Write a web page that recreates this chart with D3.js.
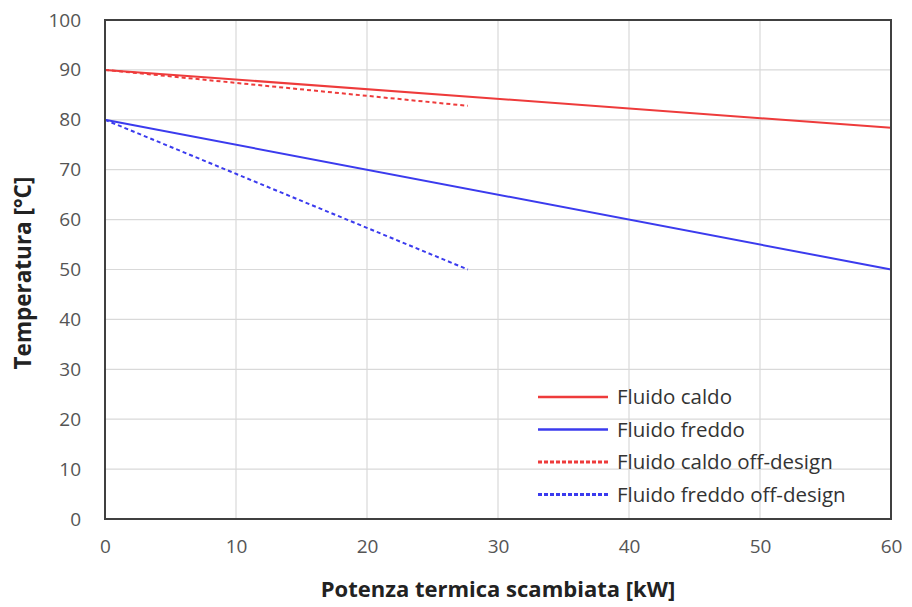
<!DOCTYPE html>
<html><head><meta charset="utf-8">
<script src="https://cdn.jsdelivr.net/npm/d3@7/dist/d3.min.js"></script>
<style>body{margin:0;background:#fff}</style>
</head><body>
<svg id="c" width="912" height="607"></svg>
<script>
const xTicks = [0,10,20,30,40,50,60];
const yTicks = [0,10,20,30,40,50,60,70,80,90,100];
const seriesNames = ["Fluido caldo","Fluido freddo","Fluido caldo off-design","Fluido freddo off-design"];
const caldo = [[0,90],[60,78.4]];
const freddo = [[0,80],[60,50]];
const caldoOff = [[0,90],[27.7,82.8]];
const freddoOff = [[0,80],[27.7,50]];
const colors = ["#ee3b3b","#3b3bee","#ee3b3b","#3b3bee"];
const dashed = [false,false,true,true];
const allSeries = [caldo,freddo,caldoOff,freddoOff];

const svg = d3.select("#c");
const m = {l:105,t:20,r:891,b:519};
const x = d3.scaleLinear().domain([0,60]).range([m.l,m.r]);
const y = d3.scaleLinear().domain([0,100]).range([m.b,m.t]);
const font = "'Open Sans', sans-serif";

// grid
svg.append("g").selectAll("line").data(xTicks).join("line")
  .attr("x1",d=>x(d)).attr("x2",d=>x(d)).attr("y1",m.t).attr("y2",m.b)
  .attr("stroke","#d9d9d9").attr("stroke-width",1.2);
svg.append("g").selectAll("line").data(yTicks).join("line")
  .attr("x1",m.l).attr("x2",m.r).attr("y1",d=>y(d)).attr("y2",d=>y(d))
  .attr("stroke","#d9d9d9").attr("stroke-width",1.2);

// axes
const xa = svg.append("g").attr("transform",`translate(0,${m.b})`)
  .call(d3.axisBottom(x).tickValues(xTicks).tickSize(0).tickPadding(21));
const ya = svg.append("g").attr("transform",`translate(${m.l},0)`)
  .call(d3.axisLeft(y).tickValues(yTicks).tickSize(0).tickPadding(24));
[xa,ya].forEach(a=>{a.select(".domain").remove();
  a.selectAll("text").attr("font-family",font).attr("font-size",19).attr("fill","#555");});

// lines
const line = d3.line().x(d=>x(d[0])).y(d=>y(d[1]));
svg.append("g").selectAll("path").data(allSeries).join("path")
  .attr("d",line).attr("fill","none")
  .attr("stroke",(d,i)=>colors[i]).attr("stroke-width",2)
  .attr("stroke-dasharray",(d,i)=>dashed[i]?"4,3":null);

// border
svg.append("rect").attr("x",m.l).attr("y",m.t).attr("width",m.r-m.l).attr("height",m.b-m.t)
  .attr("fill","none").attr("stroke","#404040").attr("stroke-width",2);

// legend
const lg = svg.append("g");
seriesNames.forEach((n,i)=>{
  const yy = 397 + i*32.5;
  lg.append("line").attr("x1",538).attr("x2",608).attr("y1",yy).attr("y2",yy)
    .attr("stroke",colors[i]).attr("stroke-width",dashed[i]?3:2.5)
    .attr("stroke-dasharray",dashed[i]?"4,2":null);
  lg.append("text").attr("x",617).attr("y",yy).attr("dy","0.35em")
    .attr("font-family",font).attr("font-size",20.5).attr("fill","#333").text(n);
});

// axis titles
svg.append("text").attr("x",(m.l+m.r)/2).attr("y",597).attr("text-anchor","middle")
  .attr("font-family",font).attr("font-weight","bold").attr("font-size",22).attr("fill","#222")
  .text("Potenza termica scambiata [kW]");
svg.append("text").attr("transform","translate(31,273) rotate(-90)").attr("text-anchor","middle")
  .attr("font-family",font).attr("font-weight","bold").attr("font-size",22.5).attr("fill","#222")
  .text("Temperatura [°C]");
</script>
</body></html>
